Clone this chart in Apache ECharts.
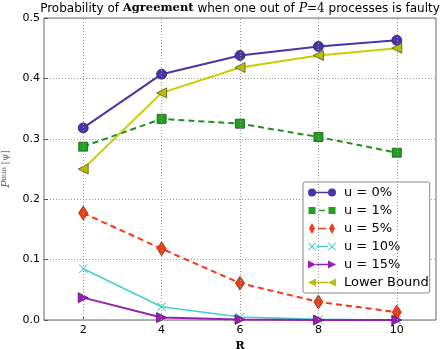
<!DOCTYPE html>
<html><head><meta charset="utf-8">
<script src="https://cdn.jsdelivr.net/npm/echarts@6/dist/echarts.min.js"></script>
<style>html,body{margin:0;padding:0;background:#fff}#c{width:443px;height:349px}</style>
</head><body><div id="c"></div>
<script>
const R = [2, 4, 6, 8, 10];
const xTicks = [2, 4, 6, 8, 10];
const u0 = [0.318, 0.407, 0.438, 0.453, 0.463];
const u1 = [0.287, 0.333, 0.325, 0.303, 0.277];
const u5 = [0.177, 0.118, 0.061, 0.030, 0.013];
const u10 = [0.085, 0.022, 0.005, 0.001, 0.000];
const u15 = [0.037, 0.004, 0.001, 0.000, 0.000];
const lower = [0.250, 0.376, 0.418, 0.438, 0.450];
const names = ['u = 0%', 'u = 1%', 'u = 5%', 'u = 10%', 'u = 15%', 'Lower Bound'];

const pair = (v) => R.map((r, i) => [r, v[i]]);

function circ(cx, cy, r) { return `M${cx - r},${cy} A${r},${r} 0 1,0 ${cx + r},${cy} A${r},${r} 0 1,0 ${cx - r},${cy} Z `; }
function cross(cx, cy, a, t) {
  const p = [[cx - a, cy - a + t], [cx - a + t, cy - a], [cx, cy - t], [cx + a - t, cy - a], [cx + a, cy - a + t], [cx + t, cy], [cx + a, cy + a - t], [cx + a - t, cy + a], [cx, cy + t], [cx - a + t, cy + a], [cx - a, cy + a - t], [cx - t, cy]];
  return 'M' + p.map(q => q.join(',')).join(' L') + ' Z ';
}
const solidLine = (a, b) => `M${a},5.3 L${b},5.3 L${b},6.7 L${a},6.7 Z `;
const anchors = 'M14,0 L14.01,0 L14,0.01 Z M14,12 L14.01,12 L14,11.99 Z M0,6 L0,6.01 L0.01,6 Z M28,6 L28,6.01 L27.99,6 Z';
const icons = [
  'path://' + circ(4, 6, 4) + solidLine(8, 20) + circ(24, 6, 4) + anchors,
  'path://M0.5,2.5 L7.5,2.5 L7.5,9.5 L0.5,9.5 Z ' + solidLine(11, 17) + 'M20.5,2.5 L27.5,2.5 L27.5,9.5 L20.5,9.5 Z ' + anchors,
  'path://M4,0.5 L7,6 L4,11.5 L1,6 Z ' + solidLine(10, 18) + 'M24,0.5 L27,6 L24,11.5 L21,6 Z ' + anchors,
  'path://' + cross(4, 6, 4, 0.7) + solidLine(8, 20) + cross(24, 6, 4, 0.7) + anchors,
  'path://M0,2 L8,6 L0,10 Z ' + solidLine(8, 20) + 'M20,2 L28,6 L20,10 Z ' + anchors,
  'path://M8,2 L0,6 L8,10 Z ' + solidLine(8, 20) + 'M28,2 L20,6 L28,10 Z ' + anchors
];
const xPath = 'path://' + cross(4, 4, 4, 0.6);

const chart = echarts.init(document.getElementById('c'));
const serif = 'DejaVu Serif';
const mk = (name, data, color, lineType, symbol, size, rotate, fill, border, lw) => ({
  name, type: 'line', data: pair(data), z: 3,
  lineStyle: { color, width: lw || 2, type: lineType },
  itemStyle: { color: fill, borderColor: border, borderWidth: border ? 0.8 : 0 },
  symbol, symbolSize: size, symbolRotate: rotate || 0, showSymbol: true,
  emphasis: { disabled: true }, animation: false
});

chart.setOption({
  animation: false,
  title: {
    text: '{a|Probability of }{b|Agreement}{a| when one out of }{i|P}{c|=4}{a| processes is faulty}',
    left: 240, textAlign: 'center', top: 2, padding: 0,
    textStyle: {
      fontWeight: 'normal', fontSize: 12,
      rich: {
        a: { fontFamily: 'DejaVu Sans', fontWeight: 'normal', fontSize: 12, color: '#000' },
        b: { fontFamily: serif, fontWeight: 'bold', fontSize: 11.5, color: '#000' },
        i: { fontFamily: serif, fontWeight: 'normal', fontStyle: 'italic', fontSize: 12.5, color: '#000' },
        c: { fontFamily: serif, fontWeight: 'normal', fontSize: 12, color: '#000' }
      }
    }
  },
  grid: { left: 44, right: 7, top: 18, bottom: 29, outerBoundsMode: 'none', containLabel: false, show: true, borderColor: '#666', borderWidth: 1, backgroundColor: 'transparent' },
  legend: {
    orient: 'vertical', left: 303, top: 182,
    padding: [4, 1, 4, 5], itemGap: 5, itemWidth: 28, itemHeight: 12,
    backgroundColor: '#fff', borderColor: '#888', borderWidth: 1, borderRadius: 2,
    itemStyle: { borderWidth: 0 },
    textStyle: { fontFamily: 'DejaVu Sans', fontSize: 13, color: '#000', padding: [0, 0, 0, 3] },
    data: names.map((n, i) => ({ name: n, icon: icons[i] })),
    selectedMode: false
  },
  xAxis: {
    type: 'value', min: 1, max: 11, interval: 1,
    name: 'R', nameLocation: 'middle', nameGap: 20,
    nameTextStyle: { fontFamily: serif, fontWeight: 'bold', fontSize: 11, color: '#000' },
    axisLine: { show: false },
    axisTick: { show: true, inside: true, length: 4, customValues: xTicks, lineStyle: { color: '#555' } },
    axisLabel: { customValues: xTicks, formatter: v => (v % 2 === 0 ? String(v) : ''), fontFamily: 'DejaVu Sans', fontSize: 11, color: '#000', margin: 5 },
    splitLine: { show: false }
  },
  yAxis: {
    type: 'value', min: 0, max: 0.5, interval: 0.1,
    name: '{p|P}{s|min}{b| [ψ]}', nameLocation: 'middle', nameGap: 26,
    nameTextStyle: {
      rich: {
        p: { fontFamily: serif, fontStyle: 'italic', fontSize: 11, color: '#666' },
        s: { fontFamily: serif, fontSize: 7, color: '#666', verticalAlign: 'top' },
        b: { fontFamily: serif, fontSize: 9, color: '#666' }
      }
    },
    axisLine: { show: false },
    axisTick: { show: true, inside: true, length: 4, lineStyle: { color: '#555' } },
    axisLabel: { formatter: v => v.toFixed(1), fontFamily: 'DejaVu Sans', fontSize: 11, color: '#000', margin: 4 },
    splitLine: { show: true, lineStyle: { color: '#999', type: [1, 2], width: 1 } }
  },
  series: [
    {
      name: 'grid', type: 'line', data: [], z: 1, silent: true,
      markLine: {
        silent: true, symbol: 'none', label: { show: false },
        lineStyle: { color: '#999', type: [1, 2], width: 1 },
        data: xTicks.map(v => ({ xAxis: v })), animation: false
      }
    },
    mk(names[0], u0, '#4a34a6', 'solid', 'circle', 10, 0, '#4a34a6', '#2e2070'),
    mk(names[1], u1, '#1f8f1f', [6, 4], 'rect', 9, 0, '#22a022', '#145014'),
    mk(names[2], u5, '#ff3311', [6, 4], 'diamond', [9, 14], 0, '#e8401a', '#a02000'),
    mk(names[3], u10, '#45d0d0', 'solid', xPath, 9, 0, '#45d0d0', null, 1.6),
    mk(names[4], u15, '#9a1fb0', 'solid', 'triangle', 10, -90, '#9a1fb0', '#5a1070'),
    mk(names[5], lower, '#cccc00', 'solid', 'triangle', 10, 90, '#bdbd10', '#555500')
  ]
});
</script></body></html>
